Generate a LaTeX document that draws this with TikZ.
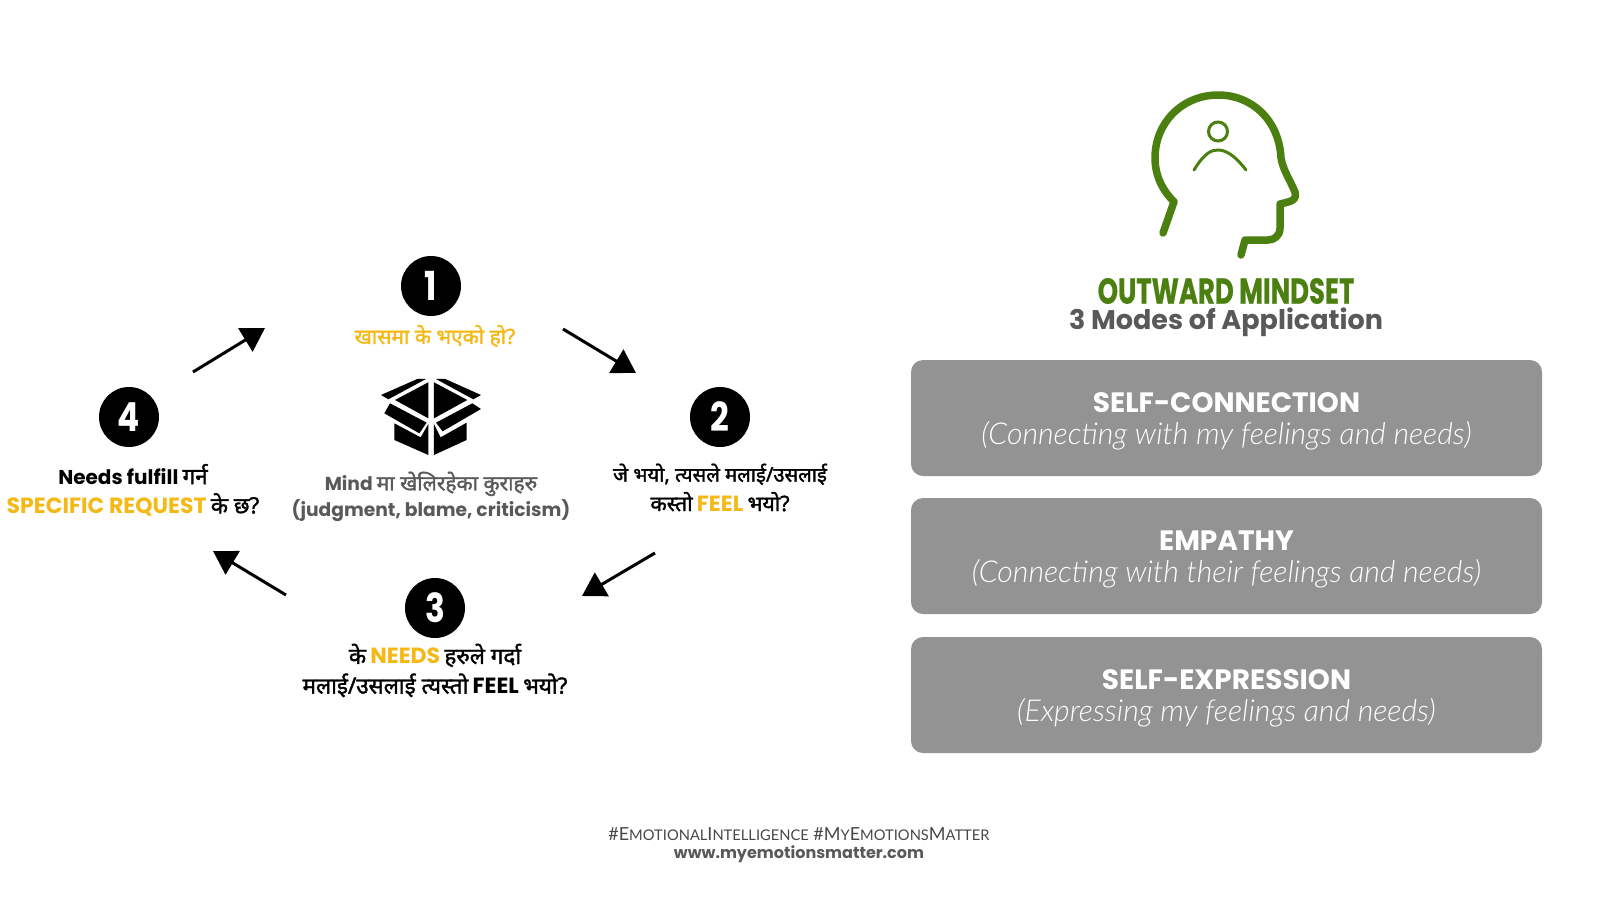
\documentclass[tikz,border=0pt]{standalone}
\usepackage{fontspec}
\usetikzlibrary{arrows.meta}
\setmainfont{Poppins}
\newfontfamily\devfont[Script=Devanagari,FakeBold=1.6,Scale=1.12]{Noto Sans}
\newfontfamily\condfont[FakeStretch=0.72,FakeBold=0.6]{Poppins}
\newfontfamily\numfont[FakeStretch=0.82]{Poppins}
\newfontfamily\subfont{Lato Light}
\newfontfamily\tagfont{Lato}
\newcommand{\dv}[1]{{\devfont #1}}
\newcommand{\fsz}[1]{\fontsize{#1}{#1}\selectfont}
\newcommand{\up}[1]{{\fsz{22}#1}}
\definecolor{mindgreen}{HTML}{4B7F10}
\definecolor{askyellow}{HTML}{F4B916}
\definecolor{softgray}{HTML}{595959}
\definecolor{boxgray}{HTML}{939393}
\tikzset{
numdot/.style={circle,fill=black,text=white,minimum size=60pt,inner sep=0pt,font=\numfont\bfseries\fsz{40}},
asktext/.style={align=center,text=black,inner sep=0pt,font=\bfseries\fsz{20}},
modebox/.style={fill=boxgray,rounded corners=12pt,minimum width=631pt,minimum height=116pt,inner sep=0pt,align=center,text=white},
modetext/.style={inner sep=0pt,align=center,text=white},
sketcharrow/.style={line width=3pt,draw=black,-{Triangle[length=23pt,width=27pt]}},
}
\begin{document}
\begin{tikzpicture}[x=1pt,y=-1pt]
\useasboundingbox (0,0) rectangle (1600,900);
% the cycle
\node[numdot] (numa) at (431,286) {1};
\node[numdot] (numb) at (720,417) {2};
\node[numdot] (numc) at (435,608) {3};
\node[numdot] (numd) at (129,417) {4};
\node[asktext,text=askyellow,font=\bfseries\fsz{18.7}] (aska) at (435,336) {\dv{खासमा के भएको हो?}};
\node[asktext] (askb) at (720,487.5) {{\fsz{18}\dv{जे भयो, त्यसले मलाई/उसलाई}}\\[6pt]{\fsz{19}\dv{कस्तो}} {\color{askyellow}\up{FEEL}} {\fsz{19}\dv{भयो?}}};
\node[asktext] (askc) at (435,670.5) {\dv{के} {\color{askyellow}\up{NEEDS}} \dv{हरुले गर्दा}\\[5.5pt]\dv{मलाई/उसलाई त्यस्तो} \up{FEEL} \dv{भयो?}};
\node[asktext] (askd) at (133,490) {Needs fulfill \dv{गर्न}\\[8pt]{\color{askyellow}\up{SPECIFIC REQUEST}} \dv{के छ?}};
\node[asktext,text=softgray,font=\bfseries\fsz{18.7}] (mindtext) at (431,496.5) {Mind \dv{मा खेलिरहेका कुराहरु}\\[2pt](judgment, blame, criticism)};
% arrows
\coordinate (arra) at (563,329);
\coordinate (arrb) at (636,373);
\coordinate (arrc) at (655,553);
\coordinate (arrd) at (582,596);
\coordinate (arre) at (286,595);
\coordinate (arrf) at (213,551);
\coordinate (arrg) at (193,372);
\coordinate (arrh) at (265,328);
\draw[sketcharrow] (arra) -- (arrb);
\draw[sketcharrow] (arrc) -- (arrd);
\draw[sketcharrow] (arre) -- (arrf);
\draw[sketcharrow] (arrg) -- (arrh);
% box icon
\begin{scope}[x=0.3333pt,y=-0.3333pt,shift={(280pt,-240pt)}]
\fill (303,465) -- (412,417) -- (438,417) -- (325,478) -- cycle;
\fill (468,417) -- (496,417) -- (603,465) -- (580,478) -- cycle;
\fill (345,480) -- (445,427) -- (445,535) -- cycle;
\fill (462,427) -- (562,480) -- (462,535) -- cycle;
\fill (330,490) -- (440,548) -- (418,580) -- (313,520) -- cycle;
\fill (577,490) -- (468,548) -- (488,574) -- (603,507) -- cycle;
\fill (343,550) -- (422,592) -- (445,552) -- (445,645) -- (343,600) -- cycle;
\fill (462,552) -- (482,592) -- (560,548) -- (560,600) -- (462,645) -- cycle;
\end{scope}
% head
\draw[mindgreen,line width=7.5pt,line cap=round,line join=round] (1163,233) -- (1174,201.7)
  .. controls (1162,190) and (1155,175) .. (1155,158)
  .. controls (1155,122) and (1183,95) .. (1218,95)
  .. controls (1252,95) and (1279,120) .. (1281,158)
  .. controls (1283,170) and (1290,180) .. (1295,192)
  .. controls (1297,198) and (1293,201) .. (1288,202)
  -- (1280,204) -- (1280,228)
  .. controls (1280,236) and (1274,240) .. (1268,240)
  -- (1245,240) -- (1241,255);
\draw[mindgreen,line width=3pt] (1218,131.5) circle (9.5);
\draw[mindgreen,line width=3pt,line cap=round] (1194,170) .. controls (1205,152) and (1212,150) .. (1218,150) .. controls (1224,150) and (1233,153) .. (1246,170);
\node[inner sep=0pt,text=mindgreen,font=\condfont\bfseries\fsz{36}] (headline) at (1226,291) {OUTWARD MINDSET};
\node[inner sep=0pt,text=softgray,font=\bfseries\fsz{27}] (subline) at (1226,322) {3 Modes of Application};
% modes
\node[modebox] (modea) at (1226.5,418) {};
\node[modebox] (modeb) at (1226.5,556) {};
\node[modebox] (modec) at (1226.5,695) {};
\node[modetext] (modetexta) at (1226.5,421.5) {{\bfseries\fsz{28}SELF-CONNECTION}\\[8pt]{\subfont\itshape\fsz{30.2}(Connecting with my feelings and needs)}};
\node[modetext] (modetextb) at (1226.5,559.5) {{\bfseries\fsz{28}EMPATHY}\\[8pt]{\subfont\itshape\fsz{30.2}(Connecting with their feelings and needs)}};
\node[modetext] (modetextc) at (1226.5,698.5) {{\bfseries\fsz{28}SELF-EXPRESSION}\\[8pt]{\subfont\itshape\fsz{30.2}(Expressing my feelings and needs)}};
% footer
\node[inner sep=0pt,text=softgray!80!black,font=\tagfont\fsz{18}] (tagline) at (799,834) {\#E{\fsz{14.7}MOTIONAL}I{\fsz{14.7}NTELLIGENCE} \#M{\fsz{14.7}Y}E{\fsz{14.7}MOTIONS}M{\fsz{14.7}ATTER}};
\node[inner sep=0pt,text=softgray,font=\bfseries\fsz{16}] (siteline) at (799,854) {www.myemotionsmatter.com};
\end{tikzpicture}
\end{document}
